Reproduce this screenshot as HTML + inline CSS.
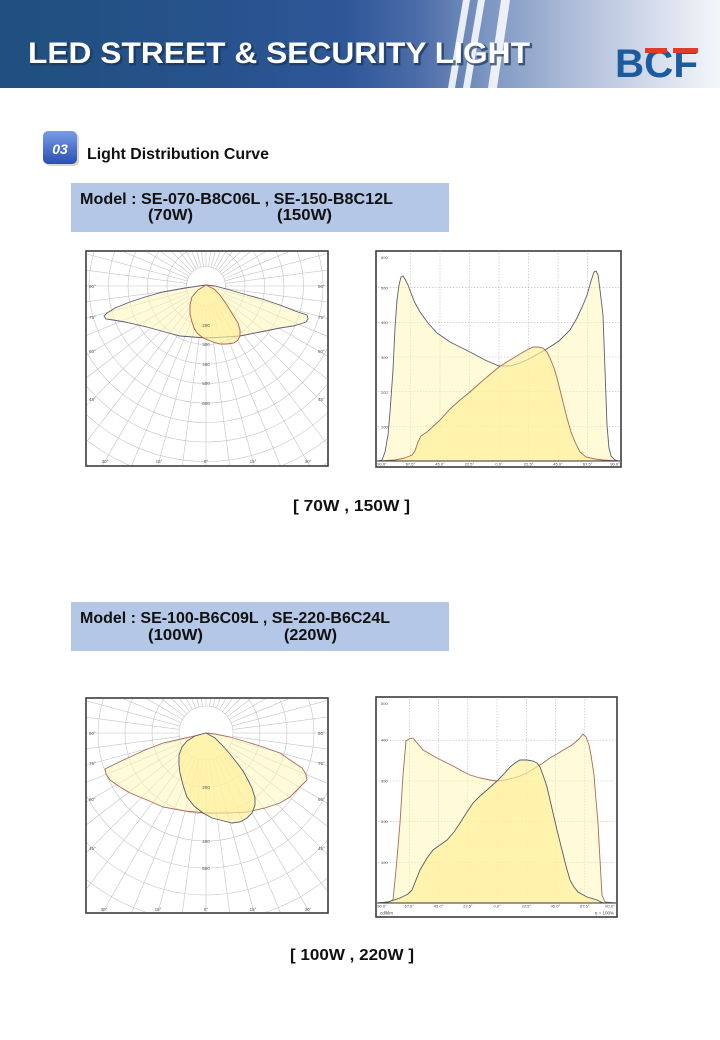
<!DOCTYPE html>
<html><head><meta charset="utf-8"><style>
html,body{margin:0;padding:0;background:#fff;width:720px;height:1040px;overflow:hidden;}
svg{display:block;position:absolute;left:0;top:0;}
text{font-family:"Liberation Sans",sans-serif;}
</style></head><body>
<svg width="720" height="1040" viewBox="0 0 720 1040" xmlns="http://www.w3.org/2000/svg">
<defs>
<linearGradient id="hg" x1="0" y1="0" x2="1" y2="0">
<stop offset="0" stop-color="#1f4f7e"/>
<stop offset="0.3" stop-color="#27528c"/>
<stop offset="0.48" stop-color="#2f5798"/>
<stop offset="0.58" stop-color="#4b6ca8"/>
<stop offset="0.68" stop-color="#7e97c3"/>
<stop offset="0.78" stop-color="#a8b8d6"/>
<stop offset="0.9" stop-color="#d2daea"/>
<stop offset="1" stop-color="#f4f6fa"/>
</linearGradient>
<linearGradient id="bg" x1="0" y1="0" x2="0" y2="1">
<stop offset="0" stop-color="#7a9ce8"/>
<stop offset="1" stop-color="#2a4fb2"/>
</linearGradient>
<clipPath id="c1"><rect x="87" y="252" width="240" height="213"/></clipPath>
<clipPath id="c2"><rect x="87" y="699" width="240" height="213"/></clipPath>
</defs>

<!-- Header -->
<rect x="0" y="0" width="720" height="88" fill="url(#hg)"/>
<polygon points="463,0 470,0 455,88 448,88" fill="#fff" opacity="0.85"/>
<polygon points="478,0 485,0 470,88 463,88" fill="#fff" opacity="0.85"/>
<polygon points="501,0 510,0 497,88 488,88" fill="#fff" opacity="0.85"/>
<text x="29.5" y="64.5" font-size="30" font-weight="bold" textLength="502" lengthAdjust="spacingAndGlyphs" fill="#1a3558" stroke="#1a3558" stroke-width="1.8" opacity="0.7">LED STREET &amp; SECURITY LIGHT</text>
<text x="28" y="63" font-size="30" font-weight="bold" textLength="502" lengthAdjust="spacingAndGlyphs" fill="#ffffff">LED STREET &amp; SECURITY LIGHT</text>
<text x="615" y="77" font-size="40" font-weight="bold" textLength="83" lengthAdjust="spacingAndGlyphs" fill="#1d5b9f">BCF</text>
<rect x="645" y="48" width="22" height="5" fill="#e23b2b"/>
<rect x="673" y="48" width="25" height="5" fill="#e23b2b"/>

<!-- Section title -->
<rect x="45" y="133" width="34" height="33" rx="5" fill="#888" opacity="0.35"/>
<rect x="43" y="131" width="34" height="33" rx="5" fill="url(#bg)"/>
<text x="60" y="154" font-size="14" font-weight="bold" font-style="italic" fill="#fff" text-anchor="middle">03</text>
<text x="87" y="159" font-size="16" font-weight="bold" fill="#111" textLength="182" lengthAdjust="spacingAndGlyphs">Light Distribution Curve</text>

<!-- Model box 1 -->
<rect x="71" y="183" width="378" height="49" fill="#b4c7e7"/>
<text x="80" y="204" font-size="15.5" font-weight="bold" fill="#111" textLength="313" lengthAdjust="spacingAndGlyphs">Model : SE-070-B8C06L , SE-150-B8C12L</text>
<text x="148" y="220" font-size="15.5" font-weight="bold" fill="#111" textLength="45" lengthAdjust="spacingAndGlyphs">(70W)</text>
<text x="277" y="220" font-size="15.5" font-weight="bold" fill="#111" textLength="55" lengthAdjust="spacingAndGlyphs">(150W)</text>

<!-- Polar chart 1 -->
<rect x="86" y="251" width="242" height="215" fill="#fff"/>
<g clip-path="url(#c1)">
<g transform="translate(206,286)" stroke="#c4c4c4" stroke-width="0.6" fill="none">
<circle r="39"/><circle r="58.5"/><circle r="78"/><circle r="97.5"/><circle r="117"/><circle r="136.5"/><circle r="156"/><circle r="175.5"/><circle r="195"/><circle r="214.5"/>
<line x1="-230" y1="0" x2="230" y2="0"/>
<line x1="-230" y1="0" x2="230" y2="0" transform="rotate(7.5)"/>
<line x1="-230" y1="0" x2="230" y2="0" transform="rotate(15)"/>
<line x1="-230" y1="0" x2="230" y2="0" transform="rotate(22.5)"/>
<line x1="-230" y1="0" x2="230" y2="0" transform="rotate(30)"/>
<line x1="-230" y1="0" x2="230" y2="0" transform="rotate(37.5)"/>
<line x1="-230" y1="0" x2="230" y2="0" transform="rotate(45)"/>
<line x1="-230" y1="0" x2="230" y2="0" transform="rotate(52.5)"/>
<line x1="-230" y1="0" x2="230" y2="0" transform="rotate(60)"/>
<line x1="-230" y1="0" x2="230" y2="0" transform="rotate(67.5)"/>
<line x1="-230" y1="0" x2="230" y2="0" transform="rotate(75)"/>
<line x1="-230" y1="0" x2="230" y2="0" transform="rotate(82.5)"/>
<line x1="-230" y1="0" x2="230" y2="0" transform="rotate(90)"/>
<line x1="-230" y1="0" x2="230" y2="0" transform="rotate(97.5)"/>
<line x1="-230" y1="0" x2="230" y2="0" transform="rotate(105)"/>
<line x1="-230" y1="0" x2="230" y2="0" transform="rotate(112.5)"/>
<line x1="-230" y1="0" x2="230" y2="0" transform="rotate(120)"/>
<line x1="-230" y1="0" x2="230" y2="0" transform="rotate(127.5)"/>
<line x1="-230" y1="0" x2="230" y2="0" transform="rotate(135)"/>
<line x1="-230" y1="0" x2="230" y2="0" transform="rotate(142.5)"/>
<line x1="-230" y1="0" x2="230" y2="0" transform="rotate(150)"/>
<line x1="-230" y1="0" x2="230" y2="0" transform="rotate(157.5)"/>
<line x1="-230" y1="0" x2="230" y2="0" transform="rotate(165)"/>
<line x1="-230" y1="0" x2="230" y2="0" transform="rotate(172.5)"/>
<circle r="19.5" fill="#fff"/>
</g>
<polygon points="206,285 185,288 163,292 145,297 130,302 115,308 107,313 104,316 106,319 113,320 125,322 147,327 165,332 180,336 206,338 225,337 240,336 260,332 280,328 293,326 300,324 306,322 308,319 307,315 295,311 280,305 262,299 247,295 230,290 215,286" fill="#fff6b8" fill-opacity="0.55" stroke="#5a5c78" stroke-width="0.9"/>
<polygon points="206,285 198,290 192,297 190,305 190,314 192,322 194,328 197,333 203,338 213,342 220,344 227,344 234,343 238,340 240,336 240,330 238,323 233,315 227,305 220,295 214,289" fill="#fff096" fill-opacity="0.65" stroke="#b0604a" stroke-width="0.9"/>
<g font-size="4.5" fill="#555">
<text x="89" y="288">90°</text><text x="318" y="288">90°</text>
<text x="89" y="319">75°</text><text x="318" y="319">75°</text>
<text x="89" y="353">60°</text><text x="318" y="353">60°</text>
<text x="89" y="401">45°</text><text x="318" y="401">45°</text>
</g>
<g font-size="4.5" fill="#555" text-anchor="middle">
<text x="105" y="463">30°</text><text x="159" y="463">15°</text><text x="206" y="463">0°</text><text x="253" y="463">15°</text><text x="308" y="463">30°</text>
<text x="206" y="327">200</text><text x="206" y="346">300</text><text x="206" y="366">400</text><text x="206" y="385">500</text><text x="206" y="405">600</text>
</g>
</g>
<rect x="86" y="251" width="242" height="215" fill="none" stroke="#3c3c3c" stroke-width="1.6"/>

<!-- Linear chart 1 -->
<rect x="376" y="251" width="245" height="216" fill="#fff"/>
<g stroke="#b8b8b8" stroke-width="0.6" stroke-dasharray="1.5,1.5">
<line x1="378" y1="426.3" x2="619" y2="426.3"/><line x1="378" y1="391.7" x2="619" y2="391.7"/><line x1="378" y1="357" x2="619" y2="357"/><line x1="378" y1="322.3" x2="619" y2="322.3"/><line x1="378" y1="287.7" x2="619" y2="287.7"/>
<line x1="410.4" y1="253" x2="410.4" y2="461"/><line x1="440" y1="253" x2="440" y2="461"/><line x1="469.4" y1="253" x2="469.4" y2="461"/><line x1="499" y1="253" x2="499" y2="461"/><line x1="528.6" y1="253" x2="528.6" y2="461"/><line x1="558" y1="253" x2="558" y2="461"/><line x1="587.6" y1="253" x2="587.6" y2="461"/>
</g>
<polygon points="378,461 382,460 385,452 388,435 390,412 393,370 395,328 397,300 399,285 401,277 403,276 405,279 408,285 411,293 415,303 420,312 428,323 437,333 450,342 470,352 485,360 499,366 510,366 520,363 529,359 545,350 559,341 570,330 577,318 583,305 587,295 591,281 594,272 596,271 598,275 600,290 603,315 605,370 607,425 609,448 611,456 615,460 619,461" fill="#fff6b8" fill-opacity="0.55" stroke="#5a5c78" stroke-width="0.9"/>
<polygon points="378,461 395,460 405,458 412,455 415,451 418,442 421,436 427,432 440,420 450,409 460,400 470,392 480,383 487,377 499,367 510,360 520,354 527,350 533,347 538,347 543,348 547,352 550,358 554,368 557,378 562,398 567,418 571,432 575,442 580,452 586,457 595,459 603,460 619,461" fill="#fff096" fill-opacity="0.65" stroke="#a86a5a" stroke-width="0.9"/>
<line x1="377" y1="461" x2="620" y2="461" stroke="#333" stroke-width="1"/>
<g font-size="4" fill="#555">
<text x="381" y="259">600</text><text x="381" y="289.5">500</text><text x="381" y="324">400</text><text x="381" y="359">300</text><text x="381" y="394">200</text><text x="381" y="428.5">100</text>
</g>
<g font-size="4" fill="#444" text-anchor="middle">
<text x="382" y="465.5">90.0°</text><text x="410.4" y="465.5">67.5°</text><text x="440" y="465.5">45.0°</text><text x="469.4" y="465.5">22.5°</text><text x="499" y="465.5">0.0°</text><text x="528.6" y="465.5">22.5°</text><text x="558" y="465.5">45.0°</text><text x="587.6" y="465.5">67.5°</text><text x="615" y="465.5">90.0°</text>
</g>
<rect x="376" y="251" width="245" height="216" fill="none" stroke="#3c3c3c" stroke-width="1.6"/>

<text x="293" y="511" font-size="16" font-weight="bold" fill="#111" textLength="117" lengthAdjust="spacingAndGlyphs">[ 70W , 150W ]</text>

<!-- Model box 2 -->
<rect x="71" y="602" width="378" height="49" fill="#b4c7e7"/>
<text x="80" y="623" font-size="15.5" font-weight="bold" fill="#111" textLength="310" lengthAdjust="spacingAndGlyphs">Model : SE-100-B6C09L , SE-220-B6C24L</text>
<text x="148" y="640" font-size="15.5" font-weight="bold" fill="#111" textLength="55" lengthAdjust="spacingAndGlyphs">(100W)</text>
<text x="284" y="640" font-size="15.5" font-weight="bold" fill="#111" textLength="53" lengthAdjust="spacingAndGlyphs">(220W)</text>

<!-- Polar chart 2 -->
<rect x="86" y="698" width="242" height="215" fill="#fff"/>
<g clip-path="url(#c2)">
<g transform="translate(206,733)" stroke="#c4c4c4" stroke-width="0.6" fill="none">
<circle r="54"/><circle r="81"/><circle r="108"/><circle r="135"/><circle r="162"/><circle r="189"/><circle r="216"/>
<line x1="-230" y1="0" x2="230" y2="0"/>
<line x1="-230" y1="0" x2="230" y2="0" transform="rotate(7.5)"/>
<line x1="-230" y1="0" x2="230" y2="0" transform="rotate(15)"/>
<line x1="-230" y1="0" x2="230" y2="0" transform="rotate(22.5)"/>
<line x1="-230" y1="0" x2="230" y2="0" transform="rotate(30)"/>
<line x1="-230" y1="0" x2="230" y2="0" transform="rotate(37.5)"/>
<line x1="-230" y1="0" x2="230" y2="0" transform="rotate(45)"/>
<line x1="-230" y1="0" x2="230" y2="0" transform="rotate(52.5)"/>
<line x1="-230" y1="0" x2="230" y2="0" transform="rotate(60)"/>
<line x1="-230" y1="0" x2="230" y2="0" transform="rotate(67.5)"/>
<line x1="-230" y1="0" x2="230" y2="0" transform="rotate(75)"/>
<line x1="-230" y1="0" x2="230" y2="0" transform="rotate(82.5)"/>
<line x1="-230" y1="0" x2="230" y2="0" transform="rotate(90)"/>
<line x1="-230" y1="0" x2="230" y2="0" transform="rotate(97.5)"/>
<line x1="-230" y1="0" x2="230" y2="0" transform="rotate(105)"/>
<line x1="-230" y1="0" x2="230" y2="0" transform="rotate(112.5)"/>
<line x1="-230" y1="0" x2="230" y2="0" transform="rotate(120)"/>
<line x1="-230" y1="0" x2="230" y2="0" transform="rotate(127.5)"/>
<line x1="-230" y1="0" x2="230" y2="0" transform="rotate(135)"/>
<line x1="-230" y1="0" x2="230" y2="0" transform="rotate(142.5)"/>
<line x1="-230" y1="0" x2="230" y2="0" transform="rotate(150)"/>
<line x1="-230" y1="0" x2="230" y2="0" transform="rotate(157.5)"/>
<line x1="-230" y1="0" x2="230" y2="0" transform="rotate(165)"/>
<line x1="-230" y1="0" x2="230" y2="0" transform="rotate(172.5)"/>
<circle r="27" fill="#fff"/>
</g>
<polygon points="206,733 190,737 163,743 145,750 130,757 115,764 105,769 106,774 110,780 120,787 130,793 147,800 163,807 185,811 206,813 227,813 247,812 265,808 280,803 290,797 297,790 303,784 307,780 306,774 302,768 290,760 280,753 263,747 247,742 230,737 215,734" fill="#fff6b8" fill-opacity="0.55" stroke="#a86a5a" stroke-width="0.9"/>
<polygon points="206,733 195,736 187,741 182,747 179,755 179,765 180,773 183,785 187,797 194,806 203,813 212,818 220,820 232,823 240,822 247,818 252,813 255,805 255,798 252,788 248,780 243,771 237,763 230,754 222,745 215,738" fill="#fff096" fill-opacity="0.65" stroke="#555a6e" stroke-width="0.9"/>
<g font-size="4.5" fill="#555">
<text x="89" y="735">90°</text><text x="318" y="735">90°</text>
<text x="89" y="765">75°</text><text x="318" y="765">75°</text>
<text x="89" y="801">60°</text><text x="318" y="801">60°</text>
<text x="89" y="850">45°</text><text x="318" y="850">45°</text>
</g>
<g font-size="4.5" fill="#555" text-anchor="middle">
<text x="104" y="911">30°</text><text x="158" y="911">15°</text><text x="206" y="911">0°</text><text x="253" y="911">15°</text><text x="308" y="911">30°</text>
<text x="206" y="789">200</text><text x="206" y="843">400</text><text x="206" y="870">500</text>
</g>
</g>
<rect x="86" y="698" width="242" height="215" fill="none" stroke="#3c3c3c" stroke-width="1.6"/>

<!-- Linear chart 2 -->
<rect x="376" y="697" width="241" height="220" fill="#fff"/>
<g stroke="#b8b8b8" stroke-width="0.6" stroke-dasharray="1.5,1.5">
<line x1="378" y1="862.3" x2="615" y2="862.3"/><line x1="378" y1="821.6" x2="615" y2="821.6"/><line x1="378" y1="781" x2="615" y2="781"/><line x1="378" y1="740.2" x2="615" y2="740.2"/>
<line x1="409.3" y1="699" x2="409.3" y2="903"/><line x1="438.5" y1="699" x2="438.5" y2="903"/><line x1="467.8" y1="699" x2="467.8" y2="903"/><line x1="497" y1="699" x2="497" y2="903"/><line x1="526.3" y1="699" x2="526.3" y2="903"/><line x1="555.5" y1="699" x2="555.5" y2="903"/><line x1="584.8" y1="699" x2="584.8" y2="903"/>
</g>
<polygon points="378,903 388,902 393,900 396,870 400,823 403,775 406,741 409,739 413,738 418,744 423,750 430,754 437,758 445,762 453,766 462,771 470,775 480,778 490,780 497,781 505,780 513,778 520,776 527,773 535,768 543,763 550,758 557,754 565,749 572,745 578,740 583,734 586,737 589,745 591,755 594,775 596,800 598,823 600,860 602,895 605,902 616,903" fill="#fff6b8" fill-opacity="0.55" stroke="#a86a5a" stroke-width="0.9"/>
<polygon points="378,903 388,902 400,898 408,894 412,890 416,880 420,870 427,858 433,850 440,845 447,840 454,832 460,823 467,812 473,803 480,796 487,790 497,781 503,775 510,767 515,763 520,760 527,760 533,761 537,763 540,767 543,775 547,787 550,800 553,813 557,830 562,850 566,866 570,880 574,887 578,892 587,897 597,900 603,903 616,903" fill="#fff096" fill-opacity="0.65" stroke="#555a6e" stroke-width="0.9"/>
<line x1="377" y1="903" x2="616" y2="903" stroke="#333" stroke-width="1"/>
<g font-size="4" fill="#555">
<text x="381" y="705">500</text><text x="381" y="741.5">400</text><text x="381" y="782.5">300</text><text x="381" y="823">200</text><text x="381" y="864">100</text>
</g>
<g font-size="4" fill="#444" text-anchor="middle">
<text x="382" y="907.5">90.0°</text><text x="409.3" y="907.5">67.5°</text><text x="438.5" y="907.5">45.0°</text><text x="467.8" y="907.5">22.5°</text><text x="497" y="907.5">0.0°</text><text x="526.3" y="907.5">22.5°</text><text x="555.5" y="907.5">45.0°</text><text x="584.8" y="907.5">67.5°</text><text x="610" y="907.5">90.0°</text>
</g>
<text x="380" y="914.5" font-size="4.5" fill="#444">cd/klm</text>
<text x="614" y="914.5" font-size="4.5" fill="#444" text-anchor="end">η = 100%</text>
<rect x="376" y="697" width="241" height="220" fill="none" stroke="#3c3c3c" stroke-width="1.6"/>

<text x="290" y="960" font-size="16" font-weight="bold" fill="#111" textLength="124" lengthAdjust="spacingAndGlyphs">[ 100W , 220W ]</text>
</svg>
</body></html>
